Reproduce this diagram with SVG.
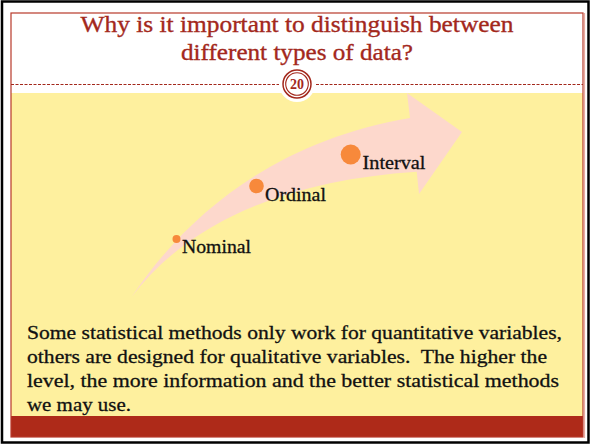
<svg xmlns="http://www.w3.org/2000/svg" width="591" height="445" viewBox="0 0 591 445">
<style>
.title{font-family:"Liberation Serif",serif;font-size:24px;fill:#A3281C;stroke:#A3281C;stroke-width:0.35px;text-anchor:middle}
.lbl{font-family:"Liberation Serif",serif;font-size:18.5px;fill:#111;stroke:#111;stroke-width:0.3px}
.body{font-family:"Liberation Serif",serif;font-size:19.5px;fill:#111;stroke:#111;stroke-width:0.3px}
.dot{fill:#F7893B}
</style>
<rect x="0" y="0" width="591" height="445" fill="#ffffff"/>
<rect x="2" y="1.5" width="586.5" height="441" fill="none" stroke="#000" stroke-width="2.5"/>
<g id="slide">
<rect x="11" y="93" width="572" height="323" fill="#FEF09E"/>
<rect x="11" y="416" width="572" height="21" fill="#AE2A19"/>
<rect x="11" y="13" width="572" height="424" fill="none" stroke="#B8392A" stroke-width="1.2"/>
<line x1="584.5" y1="13" x2="584.5" y2="438" stroke="#E9ABA0" stroke-width="1.2"/>
<line x1="11" y1="84.5" x2="279" y2="84.5" stroke="#A3281C" stroke-width="1" stroke-dasharray="3,1.5"/>
<line x1="316" y1="84.5" x2="583" y2="84.5" stroke="#A3281C" stroke-width="1" stroke-dasharray="3,1.5"/>
</g>
<g id="title">
<text class="title" x="297" y="31.5" textLength="433" lengthAdjust="spacingAndGlyphs">Why is it important to distinguish between</text>
<text class="title" x="297" y="60" textLength="232" lengthAdjust="spacingAndGlyphs">different types of data?</text>
</g>
<g id="badge">
<circle cx="297" cy="84" r="18" fill="#fff"/>
<circle cx="297" cy="84" r="14" fill="none" stroke="#A3281C" stroke-width="1.5"/>
<circle cx="297" cy="84" r="11.3" fill="none" stroke="#A3281C" stroke-width="1.1"/>
<text x="297" y="89" text-anchor="middle" font-family="Liberation Serif,serif" font-size="14" font-weight="bold" fill="#A3281C">20</text>
</g>
<g id="arrow">
<path d="M131.7,296.7 C190,210 280,140 410,118 L407,93 L462,132 L419,194 L416.7,171.7 C290,180 190,220 131.7,296.7 Z" fill="#FDD8CC"/>
</g>
<g id="nominal">
<circle class="dot" cx="176.5" cy="239" r="4"/>
<text class="lbl" x="182" y="253" textLength="69" lengthAdjust="spacingAndGlyphs">Nominal</text>
</g>
<g id="ordinal">
<circle class="dot" cx="256.5" cy="186" r="7.3"/>
<text class="lbl" x="265" y="200.5" textLength="61" lengthAdjust="spacingAndGlyphs">Ordinal</text>
</g>
<g id="interval">
<circle class="dot" cx="350.7" cy="154.5" r="10"/>
<text class="lbl" x="362.5" y="169" textLength="63" lengthAdjust="spacingAndGlyphs">Interval</text>
</g>
<g id="body">
<text class="body" x="27" y="338.5" textLength="535" lengthAdjust="spacingAndGlyphs">Some statistical methods only work for quantitative variables,</text>
<text class="body" x="27" y="362.5" textLength="520" lengthAdjust="spacingAndGlyphs" xml:space="preserve">others are designed for qualitative variables.  The higher the</text>
<text class="body" x="27" y="387" textLength="532" lengthAdjust="spacingAndGlyphs">level, the more information and the better statistical methods</text>
<text class="body" x="27" y="411" textLength="104" lengthAdjust="spacingAndGlyphs">we may use.</text>
</g>
</svg>
